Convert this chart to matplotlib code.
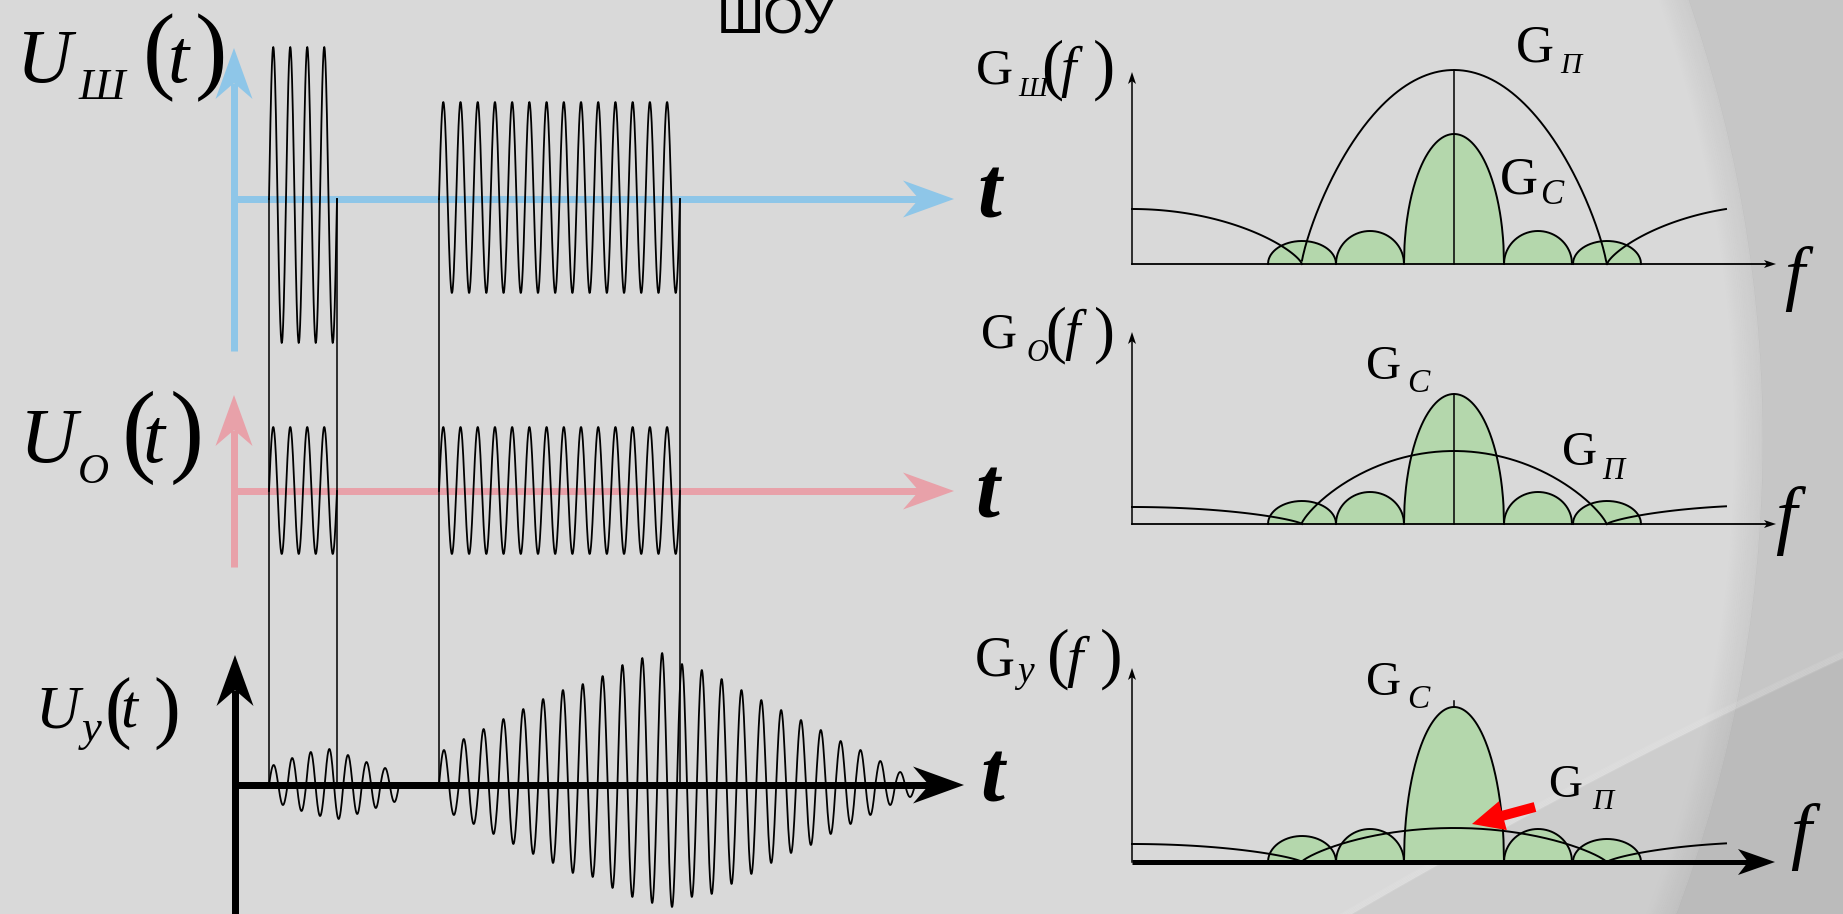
import numpy as np
import matplotlib.pyplot as plt
from matplotlib.patches import Polygon, Circle, Rectangle, FancyArrow

plt.rcParams['font.family'] = ['Liberation Serif', 'DejaVu Serif']

W, H = 1843, 914
PT = 0.72  # pixels -> points at dpi 100

# ---- left side: time traces (x in slide pixels) ----
burst_t0 = [269, 439]
burst_t1 = [337, 680]
burst_cycles = [4, 14]
noise_up = [152, 97]
noise_dn = [144, 94]
sig_up = [64, 64]
sig_dn = [63, 63]
out_t0 = [269, 439]
out_t1 = [399, 915]
out_up = [[20, 27, 33, 36, 30, 23, 17],
          [35, 46, 56, 66, 76, 86, 95, 101, 109, 120, 127, 132,
           121, 115, 106, 95, 85, 75, 65, 55, 44, 35, 24, 13]]
out_dn = [[20, 26, 31, 34, 29, 23, 17],
          [30, 39, 49, 59, 69, 78, 88, 92, 103, 112, 118, 122,
           112, 109, 99, 89, 78, 68, 60, 49, 39, 30, 20, 12]]

# ---- right side: spectra ----
f0 = 1454
lobe_off = [-152, -84, 0, 84, 153]
lobe_hw = [34, 34, 50, 34, 34]
lobe_h = [[23, 33, 130, 33, 23],
          [23, 32, 130, 32, 23],
          [26, 33, 155, 33, 23]]
gp_main = [194, 73, 34]
gp_left = [55, 17, 18]
gp_right = [59, 19, 20]

fig = plt.figure(figsize=(W / 100, H / 100), dpi=100)
ax = fig.add_axes([0, 0, 1, 1])
ax.set_xlim(0, W)
ax.set_ylim(H, 0)
ax.axis('off')

# background of the slide
ax.add_patch(Rectangle((0, 0), W, H, color='#C6C6C6', zorder=0))
ax.add_patch(Circle((417, 440), 1345, color='#D9D9D9', zorder=0.1))
for i in range(16):
    ax.add_patch(Circle((417, 440), 1345 - i * 1.8, fill=False, lw=1.8 * PT,
                        ec=(0, 0, 0, 0.06 * (1 - i / 16)), zorder=0.2))
cx = np.array([1352, 1657, 1843])
cy = np.array([914, 748, 658])
cc = np.polyfit(cx, cy, 2)
xd = np.linspace(1300, W, 100)
yd = np.polyval(cc, xd)
ax.add_patch(Polygon(np.column_stack([np.r_[xd, W, 1300], np.r_[yd, H, H]]),
                     closed=True, fc=(0, 0, 0, 0.05), ec='none', zorder=0.3))
for k in range(5):
    ax.plot(xd, yd - k * 1.5, color='white', alpha=0.08, lw=1.5, zorder=0.35)


def stealth(tip, d, L, hw, notch, color, z=3):
    d = np.array(d, float)
    d /= np.hypot(*d)
    n = np.array([-d[1], d[0]])
    tip = np.array(tip, float)
    pts = [tip, tip - L * d + hw * n, tip - (L - notch) * d, tip - L * d - hw * n]
    ax.add_patch(Polygon(pts, closed=True, fc=color, ec='none', zorder=z))
    return tip - (L - notch) * d


def burst(t0, t1, ups, dns, base, n=60):
    T = (t1 - t0) / len(ups)
    xs, ys = [], []
    for k, (a, b) in enumerate(zip(ups, dns)):
        s = np.linspace(0, 1, n)
        xs.append(t0 + k * T + s * T)
        ys.append(base - np.where(s < 0.5, a, b) * np.sin(2 * np.pi * s))
    ax.plot(np.concatenate(xs), np.concatenate(ys), color='black', lw=1.3, zorder=4)


def txt(x, y, s, size, style='italic', weight='normal', family=None):
    kw = {}
    if family:
        kw['family'] = family
    ax.text(x, y, s, fontsize=size, style=style, weight=weight,
            ha='left', va='baseline', color='black', zorder=6, **kw)


# left axes
blue, pink = '#8EC6E8', '#E8A1A9'
for col, ytop, ybot, yax, lw, tipx in [(blue, 48, 351, 199, 7, 954),
                                        (pink, 395, 567, 491, 7, 954),
                                        ('black', 655, 914, 785, 7, 964)]:
    xv = 234 if col != 'black' else 235
    e = stealth((xv, ytop), (0, -1), 51, 18.5, 16, col)
    ax.plot([xv, xv], [ybot, e[1]], color=col, lw=lw * PT, solid_capstyle='butt', zorder=2)
    e = stealth((tipx, yax), (1, 0), 51, 18.5, 16, col)
    ax.plot([xv, e[0]], [yax, yax], color=col, lw=lw * PT, solid_capstyle='butt', zorder=2)

# guide lines through the bursts
for x in burst_t0 + burst_t1:
    ax.plot([x, x], [199, 785], color='black', lw=1.1, zorder=3)

for i in range(2):
    c = burst_cycles[i]
    burst(burst_t0[i], burst_t1[i], [noise_up[i]] * c, [noise_dn[i]] * c, 199)
    burst(burst_t0[i], burst_t1[i], [sig_up[i]] * c, [sig_dn[i]] * c, 491)
    burst(out_t0[i], out_t1[i], out_up[i], out_dn[i], 785)

# right panels
green = '#B4D7AC'
bases = [264, 524, 862]
tops = [72, 332, 668]
x0, xe, xtip = 1132, 1726, 1776
for p in range(3):
    b = bases[p]
    for off, hw, h in zip(lobe_off, lobe_hw, lobe_h[p]):
        xs = np.linspace(f0 + off - hw, f0 + off + hw, 200)
        u = (xs - f0 - off) / hw
        ys = b - h * np.sqrt(np.clip(1 - u ** 2, 0, 1))
        ax.fill_between(xs, ys, b, color=green, lw=0, zorder=2)
        ax.plot(xs, ys, color='black', lw=1.4, zorder=3)
    # wide noise-band spectrum
    zl, zr = f0 + lobe_off[0], f0 + lobe_off[-1]
    xl = np.linspace(x0, zl, 120)
    ax.plot(xl, b - gp_left[p] * (1 - ((xl - x0) / (zl - x0)) ** 2) ** 0.75,
            color='black', lw=1.4, zorder=3.5)
    xm = np.linspace(zl, zr, 300)
    um = np.abs(xm - f0) / ((zr - zl) / 2)
    ax.plot(xm, b - gp_main[p] * np.clip(1 - um ** 2, 0, 1) ** 0.8,
            color='black', lw=1.4, zorder=3.5)
    xr = np.linspace(zr, xe, 80)
    ax.plot(xr, b - gp_right[p] * (1 - ((zr + 170 - xr) / 170) ** 2) ** 0.75,
            color='black', lw=1.4, zorder=3.5)
    # axes
    e = stealth((x0, tops[p]), (0, -1), 12, 4, 3, 'black', z=4)
    ax.plot([x0, x0], [b, e[1]], color='black', lw=1.1, zorder=4)
    if p < 2:
        e = stealth((xtip, b), (1, 0), 12, 4, 3, 'black', z=4)
        ax.plot([x0, e[0]], [b, b], color='black', lw=1.3, zorder=4)
    else:
        e = stealth((xtip - 1, b), (1, 0), 37, 13, 10, 'black', z=4)
        ax.plot([x0, e[0]], [b, b], color='black', lw=5 * PT, solid_capstyle='butt', zorder=4)

# centre lines
ax.plot([f0, f0], [bases[0], bases[0] - gp_main[0]], color='black', lw=1.1, zorder=3.6)
ax.plot([f0, f0], [bases[1], bases[1] - lobe_h[1][2]], color='black', lw=1.1, zorder=3.6)
ax.plot([f0, f0], [bases[2] - lobe_h[2][2], bases[2] - lobe_h[2][2] - 6], color='black', lw=1.1, zorder=3.6)

# red arrow
ax.add_patch(FancyArrow(1535, 807, -63, 17, width=10, head_width=30, head_length=32,
                        length_includes_head=True, color='#FF0000', lw=0, zorder=6))

# ---- labels ----
txt(717, 33, 'ШОУ', 37, style='normal', family='Liberation Sans')

for s, x, y, sz, st in [('U', 17, 82, 55, 'italic'), ('Ш', 78, 99, 32, 'italic'),
                        ('(', 143, 81, 70, 'normal'), ('t', 168, 82, 55, 'italic'),
                        (')', 195, 81, 70, 'normal'),
                        ('U', 20, 462, 57, 'italic'), ('О', 78, 483, 31, 'italic'),
                        ('(', 121, 463, 74, 'normal'), ('t', 143, 462, 57, 'italic'),
                        (')', 170, 463, 74, 'normal'),
                        ('U', 35, 728, 44, 'italic'), ('у', 82, 741, 32, 'italic'),
                        ('(', 105, 734, 58, 'normal'), ('t', 120, 728, 44, 'italic'),
                        (')', 153, 734, 58, 'normal')]:
    txt(x, y, s, sz, style=st)

for x, y in [(977, 217), (975, 517), (980, 802)]:
    txt(x, y, 't', 62, style='italic', weight='bold')

for x, y, sz in [(1784, 297, 52), (1775, 540, 55), (1790, 855, 54)]:
    txt(x, y, 'f', sz)

for s, x, y, sz, st in [('G', 976, 84, 37, 'normal'), ('Ш', 1018, 96, 20, 'italic'),
                        ('(', 1041, 87, 48, 'normal'), ('f', 1060, 86, 40, 'italic'),
                        (')', 1093, 87, 48, 'normal'),
                        ('G', 981, 348, 36, 'normal'), ('О', 1026, 361, 22, 'italic'),
                        ('(', 1045, 350, 45, 'normal'), ('f', 1064, 349, 40, 'italic'),
                        (')', 1094, 350, 45, 'normal'),
                        ('G', 975, 675, 40, 'normal'), ('у', 1017, 682, 27, 'italic'),
                        ('(', 1047, 676, 49, 'normal'), ('f', 1066, 676, 42, 'italic'),
                        (')', 1100, 676, 49, 'normal'),
                        ('G', 1516, 61, 38, 'normal'), ('П', 1560, 73, 21, 'italic'),
                        ('G', 1500, 194, 38, 'normal'), ('C', 1540, 204, 25, 'italic'),
                        ('G', 1366, 379, 35, 'normal'), ('C', 1407, 392, 24, 'italic'),
                        ('G', 1562, 465, 35, 'normal'), ('П', 1602, 479, 22, 'italic'),
                        ('G', 1366, 695, 35, 'normal'), ('C', 1407, 708, 24, 'italic'),
                        ('G', 1548, 797, 34, 'normal'), ('П', 1592, 809, 21, 'italic')]:
    txt(x, y, s, sz, style=st)

fig.savefig('out.png', dpi=100)
